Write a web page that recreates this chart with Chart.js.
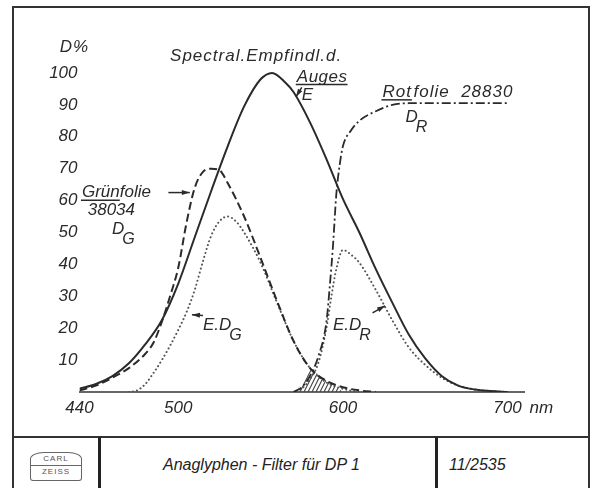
<!DOCTYPE html>
<html>
<head>
<meta charset="utf-8">
<script src="https://cdn.jsdelivr.net/npm/chart.js@4.4.1/dist/chart.umd.min.js"></script>
<style>
  body { margin: 0; background: #fff; }
  #wrap { position: relative; width: 592px; height: 488px; overflow: hidden; font-family: "Liberation Sans", Arial, sans-serif; color: #222; }
  .frame { position: absolute; left: 12px; top: 6px; width: 578px; height: 520px; border: 2px solid #333; box-sizing: border-box; }
  .hline { position: absolute; left: 12px; top: 436px; width: 578px; height: 2px; background: #333; }
  .vline { position: absolute; top: 437px; width: 3px; height: 60px; background: #222; }
  #chart { position: absolute; left: 0; top: 0; }
  .foot { position: absolute; top: 456px; font-style: italic; font-size: 16px; white-space: nowrap; }
  .logo { position: absolute; left: 30px; top: 452px; width: 52px; height: 29px; border: 1.5px solid #666; border-radius: 14px 14px 3px 3px / 7px 7px 3px 3px; box-sizing: border-box; font-size: 8px; color: #555; text-align: center; line-height: 12px; letter-spacing: 1px; }
  .logo div + div { border-top: 1px solid #666; }
</style>
</head>
<body>
<div id="wrap">
  <div class="frame"></div>
  <div class="hline"></div>
  <div class="vline" style="left:98px"></div>
  <div class="vline" style="left:435px"></div>
  <div class="logo"><div>CARL</div><div>ZEISS</div></div>
  <div class="foot" style="left:163px">Anaglyphen - Filter für DP 1</div>
  <div class="foot" style="left:449px">11/2535</div>
  <canvas id="chart" width="592" height="436"></canvas>
</div>
<script>
// wavelengths (nm) and values (D %)
const eNm  = [440, 450, 460, 470, 480, 490, 500, 510, 520, 530, 540, 550, 557, 565, 570, 580, 590, 600, 610, 620, 630, 640, 650, 660, 670, 680, 690, 700];
const eVal = [1, 2.5, 5, 9, 15, 22.5, 34, 48.5, 63, 77, 89.5, 98, 100, 97, 94, 84.5, 73, 60.5, 50, 38.5, 28, 18, 10.5, 5, 2, 0.8, 0.3, 0];

const gNm  = [440, 450, 460, 470, 480, 485, 490, 495, 500, 505, 510, 515, 520, 525, 530, 540, 550, 560, 570, 580, 590, 600, 610, 620];
const gVal = [0.5, 2, 4.5, 7.5, 12, 15.5, 22, 30, 39, 53, 64, 69, 70, 69.5, 65.5, 55, 42, 28.5, 16, 7.5, 3.5, 1.5, 0.5, 0];

const egNm  = [470, 475, 480, 485, 490, 495, 500, 505, 510, 515, 520, 525, 530, 535, 540, 550, 560, 570, 580, 590, 600, 610];
const egVal = [0, 0.5, 2.5, 6, 10, 14.5, 19.5, 25, 32, 41, 49, 53.5, 55, 53.5, 50, 40.5, 28, 16, 7.5, 3, 1, 0];

const rNm  = [570, 575, 580, 585, 590, 592, 594, 596, 598, 600, 605, 610, 620, 630, 640, 660, 680, 700];
const rVal = [0, 1.5, 5, 11, 22, 33, 46, 62, 71, 77, 82, 85, 88, 90, 90.5, 90.5, 90.5, 90.5];

const erNm  = [572, 576, 580, 585, 590, 593, 596, 600, 605, 610, 620, 630, 640, 650, 660, 670, 680, 690, 700];
const erVal = [0, 1.5, 4, 9, 20, 30, 38.5, 44.5, 43, 40.5, 32, 22.5, 14, 8.5, 4.5, 2, 0.8, 0.2, 0];

// hatched overlap of the two filters
const hatchNm  = [571, 575, 581, 585, 590, 595, 600];
const hatchVal = [0, 2.5, 7, 5.5, 3.5, 2, 0];

const xTicks = [440, 500, 600, 700];
const yTicks = [10, 20, 30, 40, 50, 60, 70, 80, 90, 100];

const ink = "#2a2a2a";
const FONT = '"Liberation Sans", Arial, sans-serif';

function pts(xs, ys) {
  return xs.map((x, i) => ({ x, y: ys[i] }));
}

function hatchPattern() {
  const c = document.createElement("canvas");
  c.width = 4; c.height = 8;
  const g = c.getContext("2d");
  g.strokeStyle = "#444";
  g.lineWidth = 1.1;
  g.beginPath();
  g.moveTo(-1, 10); g.lineTo(5, -2);
  g.moveTo(3, 10); g.lineTo(9, -2);
  g.moveTo(-5, 10); g.lineTo(1, -2);
  g.stroke();
  return g.createPattern(c, "repeat");
}

function line(data, extra) {
  return Object.assign({
    data,
    borderColor: ink,
    borderWidth: 2,
    pointRadius: 0,
    fill: false,
    cubicInterpolationMode: "monotone",
  }, extra);
}

// text and arrows
const notes = {
  id: "notes",
  afterDatasetsDraw(chart) {
    const { ctx, scales: { x, y } } = chart;
    const P = (nm, v) => [x.getPixelForValue(nm), y.getPixelForValue(v)];

    ctx.save();
    ctx.fillStyle = ink;
    ctx.strokeStyle = ink;
    ctx.textBaseline = "alphabetic";
    ctx.textAlign = "left";

    const text = (s, nm, v, size = 17, sp = 0) => {
      ctx.font = `italic ${size}px ${FONT}`;
      ctx.letterSpacing = sp + "px";
      const [px, py] = P(nm, v);
      ctx.fillText(s, px, py);
      return { px, py, w: ctx.measureText(s).width };
    };
    const under = (px, py, w) => {
      ctx.lineWidth = 1.5;
      ctx.beginPath();
      ctx.moveTo(px - 1, py + 3);
      ctx.lineTo(px + w, py + 3);
      ctx.stroke();
    };
    const sub = (a, b, nm, v) => {
      const t = text(a, nm, v);
      ctx.font = `italic 16px ${FONT}`;
      ctx.fillText(b, t.px + t.w - 2, t.py + 10);
    };
    const arrow = (nm1, v1, nm2, v2) => {
      const [x1, y1] = P(nm1, v1);
      const [x2, y2] = P(nm2, v2);
      const a = Math.atan2(y2 - y1, x2 - x1);
      ctx.lineWidth = 1.5;
      ctx.beginPath();
      ctx.moveTo(x1, y1);
      ctx.lineTo(x2, y2);
      ctx.stroke();
      ctx.beginPath();
      ctx.moveTo(x2, y2);
      ctx.lineTo(x2 - 8 * Math.cos(a) + 2.5 * Math.sin(a), y2 - 8 * Math.sin(a) - 2.5 * Math.cos(a));
      ctx.lineTo(x2 - 8 * Math.cos(a) - 2.5 * Math.sin(a), y2 - 8 * Math.sin(a) + 2.5 * Math.cos(a));
      ctx.closePath();
      ctx.fill();
    };

    text("D%", 428, 106.6, 17, 1);

    text("Spectral.Empfindl.d.", 495, 103.8, 17, 1);
    let t = text("Auges", 572, 97.3, 17, 0.5);
    under(t.px, t.py, t.w);
    text("E", 575, 91.5);
    arrow(575, 95.5, 571.5, 92.5);

    t = text("Rot", 624, 92.5, 17, 1);
    under(t.px, t.py, t.w);
    text("folie  28830", 624 + t.w / x.width * 270 + 1, 92.5, 17, 1);
    sub("D", "R", 638, 84.6);

    t = text("Grün", 441.5, 61);
    under(t.px, t.py, t.w);
    text("folie", 441.5 + t.w / x.width * 270, 61);
    text("38034", 445, 55.5);
    sub("D", "G", 459.7, 49.5);
    arrow(494, 62.5, 507, 62.5);

    sub("E.D", "G", 515, 19.4);
    arrow(515, 24, 508.3, 24.2);
    sub("E.D", "R", 594, 19.4);
    arrow(618, 24.8, 625.6, 27);

    // unit next to the last x label
    ctx.font = `italic 17px ${FONT}`;
    ctx.letterSpacing = "0px";
    ctx.fillText("nm", x.getPixelForValue(700) + 22, y.getPixelForValue(0) + 21);
    ctx.restore();
  },
};

new Chart(document.getElementById("chart"), {
  type: "line",
  data: {
    datasets: [
      line(pts(eNm, eVal), { label: "E" }),
      line(pts(gNm, gVal), { label: "D_G", borderDash: [8, 4] }),
      line(pts(egNm, egVal), { label: "E.D_G", borderColor: "#555", borderDash: [0.1, 4], borderCapStyle: "round" }),
      line(pts(rNm, rVal), { label: "D_R", borderWidth: 1.8, borderDash: [9, 3, 2, 3] }),
      line(pts(erNm, erVal), { label: "E.D_R", borderColor: "#555", borderDash: [0.1, 4], borderCapStyle: "round" }),
      line(pts(hatchNm, hatchVal), { label: "hatch", borderWidth: 0, borderColor: "rgba(0,0,0,0)", fill: "origin", backgroundColor: hatchPattern() }),
    ],
  },
  options: {
    responsive: false,
    animation: false,
    layout: { padding: { left: 0, right: 68, top: 41, bottom: 0 } },
    plugins: { legend: { display: false }, tooltip: { enabled: false } },
    scales: {
      x: {
        type: "linear",
        min: 440,
        max: 710,
        grid: { display: false, drawTicks: false },
        border: { display: true, color: "#666", width: 2, dash: [2, 14.46] },
        ticks: { color: ink, padding: 6, font: { family: FONT, size: 17, style: "italic" } },
        afterBuildTicks: (s) => { s.ticks = xTicks.map((v) => ({ value: v })); },
        afterFit: (s) => { s.height = 44; },
      },
      y: {
        min: 0,
        max: 110,
        grid: { display: false, drawTicks: false },
        border: { display: false },
        ticks: { color: ink, padding: 2, font: { family: FONT, size: 17, style: "italic" } },
        afterBuildTicks: (s) => { s.ticks = yTicks.map((v) => ({ value: v })); },
        afterFit: (s) => { s.width = 79.5; },
      },
    },
  },
  plugins: [notes],
});
</script>
</body>
</html>
